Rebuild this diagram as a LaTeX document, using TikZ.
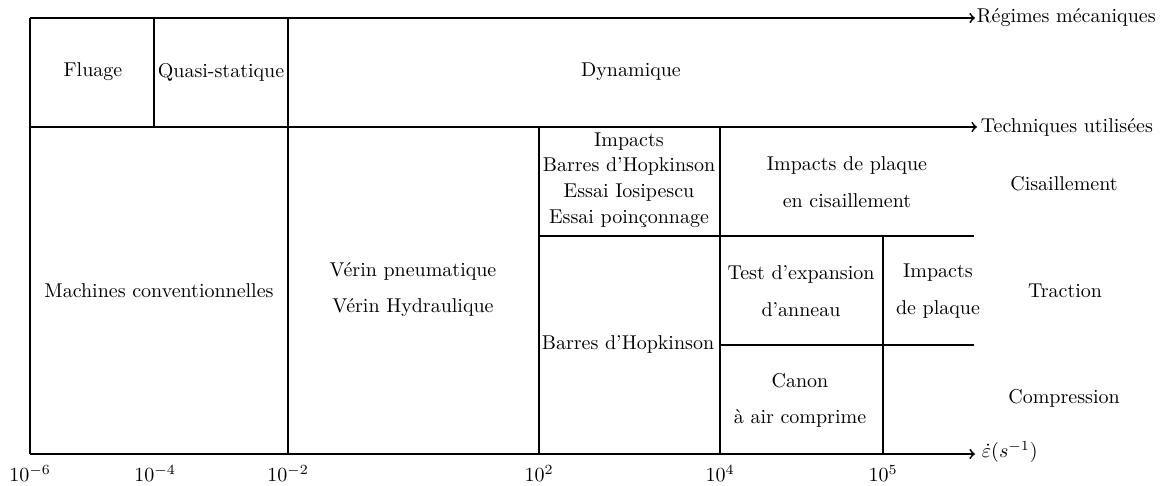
\documentclass[tikz,border=0pt]{standalone}
\usepackage{fontspec}
\begin{document}
\begin{tikzpicture}[x=0.5pt,y=-0.5pt,line width=0.9pt,
  cell/.style={align=center},
  divider/.style={line width=0.6pt},
  ticklbl/.style={anchor=north,yshift=-2pt}]
\useasboundingbox (0,0) rectangle (1162,486);
% grid points
\coordinate (tl) at (30,18);
\coordinate (ml) at (30,127);
\coordinate (bl) at (30,454);
\coordinate (v154t) at (154,18);  \coordinate (v154b) at (154,127);
\coordinate (v288t) at (288,18);  \coordinate (v288b) at (288,454);
\coordinate (v539t) at (539,127); \coordinate (v539b) at (539,454);
\coordinate (v720t) at (720,127); \coordinate (v720b) at (720,454);
\coordinate (v883t) at (883,236); \coordinate (v883b) at (883,454);
\coordinate (h236l) at (539,236); \coordinate (h236r) at (974,236);
\coordinate (h345l) at (720,345); \coordinate (h345r) at (974,345);
% axis labels
\node[anchor=west,inner sep=0.5pt] (regimes) at (975,18) {Régimes mécaniques};
\node[anchor=west,inner sep=1.5pt] (techniques) at (977,127) {Techniques utilisées};
\node[anchor=west,inner sep=3pt] (rate) at (975,452) {$\dot{\varepsilon}(s^{-1})$};
% arrows
\draw[->] (tl) -- (regimes.west);
\draw[->] (ml) -- (techniques.west);
\draw[->] (bl) -- (rate.west |- bl);
% verticals
\draw (tl) -- (bl);
\draw (v154t) -- (v154b);
\draw (v288t) -- (v288b);
\draw (v539t) -- (v539b);
\draw (v720t) -- (v720b);
\draw (v883t) -- (v883b);
% dividers
\draw[divider] (h236l) -- (h236r);
\draw[divider] (h345l) -- (h345r);
% ticks
\node[ticklbl] (t6) at (30,454) {$10^{-6}$};
\node[ticklbl] (t4) at (155,454) {$10^{-4}$};
\node[ticklbl] (t2) at (288,454) {$10^{-2}$};
\node[ticklbl] (p2) at (539,454) {$10^{2}$};
\node[ticklbl] (p4) at (720,454) {$10^{4}$};
\node[ticklbl] (p5) at (883,454) {$10^{5}$};
% cells
\node[cell] (fluage) at (93,72) {Fluage};
\node[cell] (quasi) at (221,72) {Quasi-statique};
\node[cell] (dyn) at (631,72) {Dynamique};
\node[cell] (machines) at (159,291) {Machines conventionnelles};
\node[cell] (verin) at (413,290) {Vérin pneumatique\\[6pt]Vérin Hydraulique};
\node[cell] (impacts) at (629,180) {Impacts\\[0.8pt]Barres d'Hopkinson\\[0.8pt]Essai Iosipescu\\[0.8pt]Essai poinçonnage};
\node[cell] (barres) at (628,345) {Barres d'Hopkinson};
\node[cell] (plaquecis) at (847,182) {Impacts de plaque\\[6.5pt]en cisaillement};
\node[cell] (expansion) at (801,291) {Test d'expansion\\[6.5pt]d'anneau};
\node[cell] (plaque) at (938,291) {Impacts\\[6.5pt]de plaque};
\node[cell] (canon) at (800,400) {Canon\\[6pt]à air comprime};
\node[cell] (cis) at (1064,184) {Cisaillement};
\node[cell] (traction) at (1065,291) {Traction};
\node[cell] (comp) at (1064,398) {Compression};
\end{tikzpicture}
\end{document}
